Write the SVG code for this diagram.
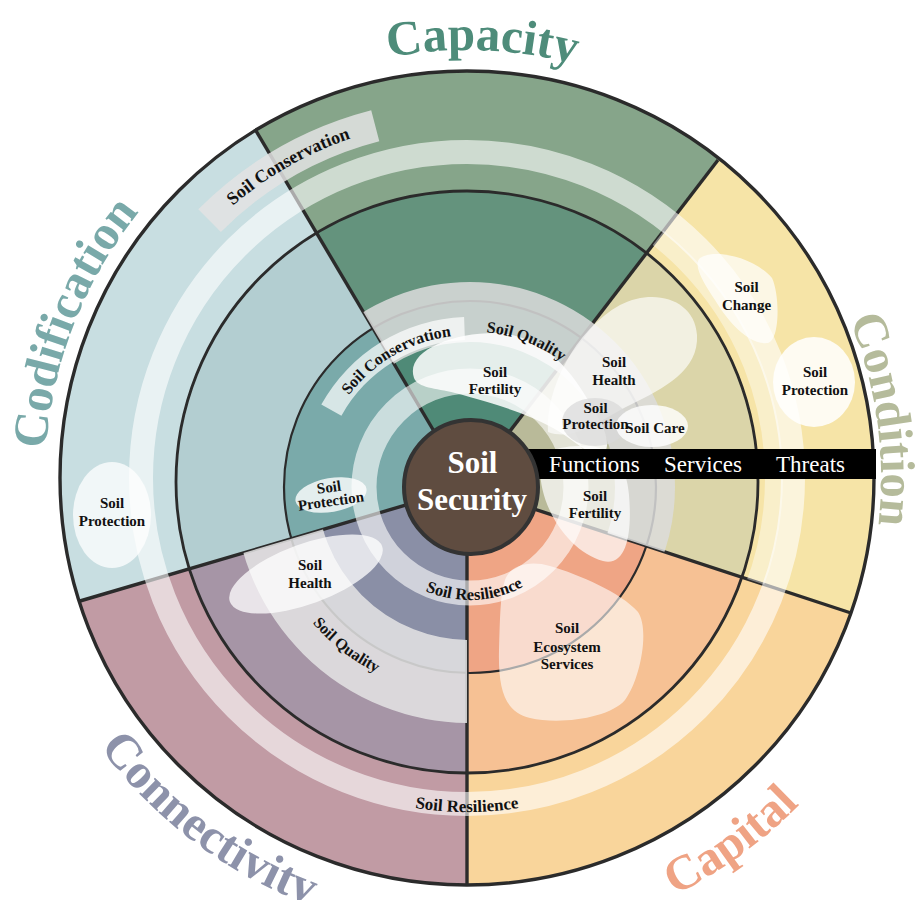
<svg xmlns="http://www.w3.org/2000/svg" width="919" height="900" viewBox="0 0 919 900">
<defs>
<style>
.lbl{font-family:"Liberation Serif","Times New Roman",serif;font-weight:bold;fill:#111;text-anchor:middle;font-size:15px}
.big{font-family:"Liberation Serif","Times New Roman",serif;font-weight:bold;font-size:49px;text-anchor:middle}
.arc{font-family:"Liberation Serif","Times New Roman",serif;font-weight:bold;fill:#111;text-anchor:middle}
.ln{fill:none;stroke:#2b2b2b}
.bar{font-family:"Liberation Serif","Times New Roman",serif;font-size:23px;fill:#fff}
.blob{fill:#fff}
</style>
<clipPath id="cCap"><polygon points="467,487 -169,-587 1220,-494"/></clipPath>
<clipPath id="cCond"><polygon points="467,487 1220,-494 1619,865"/></clipPath>
<clipPath id="cCapi"><polygon points="467,487 1619,865 467,1678"/></clipPath>
<clipPath id="cConn"><polygon points="467,487 467,1678 -694,829"/></clipPath>
<clipPath id="cCod"><polygon points="467,487 -694,829 -169,-587"/></clipPath>
<clipPath id="cTop"><polygon points="467,487 -169,-587 1220,-494 1619,865"/></clipPath>
<path id="pCapacity" d="M104.1,251.2 A428,428 0 0 1 844.9,277.1"/>
<path id="pCondition" d="M622.1,94.1 A414,414 0 0 1 721.9,804.2"/>
<path id="pCodification" d="M136.7,740.7 A422,422 0 0 1 404.6,60.6"/>
<path id="pConnectivity" d="M15.4,422.5 A455,455 0 0 0 644.8,896.8"/>
<path id="pCapital" d="M277.5,903.7 A466,466 0 0 0 930.4,429.3"/>
<path id="pSQtop" d="M372.1,366.2 A156,156 0 0 1 624.1,462.6"/>
<path id="pSCin" d="M318,487 A152,152 0 0 1 546,355.4"/>
<path id="pSCout" d="M108,476.7 A359,359 0 0 1 647.6,167.7"/>
<path id="pSRout" d="M177.7,645 A334,334 0 0 0 756.3,645"/>
<path id="pSRin" d="M374.7,547.7 A113,113 0 0 0 570.2,539.2"/>
<path id="pSQlow" d="M264.0,458.1 A208,208 0 0 0 547.9,679.9"/>
</defs>
<rect width="919" height="900" fill="#fff"/>

<g id="sector-capacity" clip-path="url(#cCap)">
<circle cx="467" cy="478" r="407" fill="#86A58A"/>
<circle cx="467" cy="482" r="291" fill="#64937D"/>
<circle cx="470" cy="487" r="186" fill="#4F8A77"/>
</g>
<g id="sector-condition" clip-path="url(#cCond)">
<circle cx="467" cy="478" r="407" fill="#F6E4A7"/>
<circle cx="467" cy="482" r="291" fill="#DBD5A9"/>
<circle cx="470" cy="487" r="186" fill="#B9BA99"/>
</g>
<g id="sector-capital" clip-path="url(#cCapi)">
<circle cx="467" cy="478" r="407" fill="#F9D59B"/>
<circle cx="467" cy="482" r="291" fill="#F6C194"/>
<circle cx="470" cy="487" r="186" fill="#EFA585"/>
</g>
<g id="sector-connectivity" clip-path="url(#cConn)">
<circle cx="467" cy="478" r="407" fill="#C19BA4"/>
<circle cx="467" cy="482" r="291" fill="#A695A6"/>
<circle cx="470" cy="487" r="186" fill="#8A8FA6"/>
</g>
<g id="sector-codification" clip-path="url(#cCod)">
<circle cx="467" cy="478" r="407" fill="#C8DEE1"/>
<circle cx="467" cy="482" r="291" fill="#B3CED1"/>
<circle cx="470" cy="487" r="186" fill="#7AAAAA"/>
</g>

<g id="connectors">
<circle class="ln" cx="470" cy="487" r="186" stroke-width="2.2"/>
<circle class="ln" cx="467" cy="482" r="291" stroke-width="2.8"/>
<circle class="ln" cx="467" cy="478" r="407" stroke-width="3.4"/>
<line class="ln" x1="467" y1="487" x2="255" y2="129" stroke-width="3.4"/>
<line class="ln" x1="467" y1="487" x2="718" y2="160" stroke-width="3.4"/>
<line class="ln" x1="467" y1="487" x2="851" y2="613" stroke-width="3.4"/>
<line class="ln" x1="467" y1="487" x2="467" y2="885" stroke-width="3.4"/>
<line class="ln" x1="467" y1="487" x2="80" y2="601" stroke-width="3.4"/>
</g>

<g id="bands">
<circle cx="467" cy="478" r="326" fill="none" stroke="#fff" stroke-width="24" opacity="0.6"/>
<circle cx="467" cy="478" r="307" fill="none" stroke="#fff" stroke-width="18" opacity="0.4" clip-path="url(#cCond)"/>
<path d="M198.3,209.3 A380,380 0 0 1 371.2,110.3 L379.3,141.2 A348,348 0 0 0 220.9,231.9 Z" fill="#E3E3E3" opacity="0.85"/>
<circle cx="470" cy="487" r="175" fill="none" stroke="#DCDCDC" stroke-width="60" opacity="0.85" clip-path="url(#cTop)"/>
<circle cx="470" cy="487" r="194.5" fill="none" stroke="#E4E4E4" stroke-width="83" opacity="0.85" clip-path="url(#cConn)"/>
<circle cx="470" cy="487" r="106" fill="none" stroke="#fff" stroke-width="25" opacity="0.6"/>
<path d="M321.3,404.6 A170,170 0 0 1 464.1,317.1 L464.9,340.1 A147,147 0 0 0 341.4,415.7 Z" fill="#fff" opacity="0.7"/>
</g>

<g id="blobs">
<path class="blob" opacity="0.85" d="M414,378 C405,352 450,333 495,333 C535,334 565,360 588,400 C600,420 612,440 605,452 C595,462 575,440 553,428 C530,415 500,405 455,393 C435,388 418,388 414,378 Z"/>
<path class="blob" opacity="0.65" d="M548,432 C545,390 575,330 620,305 C655,287 695,300 697,335 C699,370 665,388 630,405 C600,420 575,442 548,432 Z"/>
<path class="blob" opacity="0.7" d="M540,468 C540,510 570,552 603,561 C628,567 632,530 629,495 C627,465 612,448 590,446 C560,445 540,450 540,468 Z"/>
<path class="blob" opacity="0.6" d="M505,580 C510,565 530,560 550,566 C580,575 620,592 638,612 C650,630 640,680 625,700 C610,718 560,725 530,718 C505,712 498,690 499,650 C500,620 500,595 505,580 Z"/>
<path class="blob" opacity="0.7" d="M700,258 C715,248 755,258 772,278 C780,295 780,340 768,343 C750,345 730,325 715,300 C705,285 692,265 700,258 Z"/>
<ellipse class="blob" opacity="0.85" cx="814" cy="382" rx="41" ry="45"/>
<ellipse class="blob" opacity="0.75" cx="112" cy="515" rx="39" ry="53"/>
<ellipse class="blob" opacity="0.8" cx="331" cy="495" rx="36" ry="17" transform="rotate(-10 331 495)"/>
<ellipse class="blob" opacity="0.75" cx="306" cy="574" rx="81" ry="30" transform="rotate(-20 306 574)"/>
<ellipse fill="#D9D9D9" opacity="0.7" cx="595" cy="422" rx="33" ry="24"/>
<ellipse class="blob" opacity="0.8" cx="652" cy="426" rx="36" ry="21"/>
</g>

<g id="bar">
<rect x="520" y="449" width="356" height="30" fill="#000"/>
<text class="bar" x="549" y="472">Functions</text>
<text class="bar" x="664" y="472">Services</text>
<text class="bar" x="776" y="472">Threats</text>
</g>

<g id="core">
<circle cx="471" cy="487" r="67" fill="#5F4C40" stroke="#333" stroke-width="4"/>
<text font-family="Liberation Serif, Times New Roman, serif" font-weight="bold" font-size="31" fill="#fff" text-anchor="middle"><tspan x="472.5" y="473">Soil</tspan><tspan x="472" y="510">Security</tspan></text>
</g>

<g id="dimension-labels">
<text class="big" fill="#4E8C7A"><textPath href="#pCapacity" startOffset="50%">Capacity</textPath></text>
<text class="big" fill="#B5BB9B" font-size="48"><textPath href="#pCondition" startOffset="50%">Condition</textPath></text>
<text class="big" fill="#79A9A9"><textPath href="#pCodification" startOffset="50%">Codification</textPath></text>
<text class="big" fill="#8D92AA"><textPath href="#pConnectivity" startOffset="50%">Connectivity</textPath></text>
<text class="big" fill="#EFA384"><textPath href="#pCapital" startOffset="50%">Capital</textPath></text>
</g>

<g id="arc-labels">
<text class="arc" font-size="16"><textPath href="#pSQtop" startOffset="50%">Soil Quality</textPath></text>
<text class="arc" font-size="16"><textPath href="#pSCin" startOffset="50%">Soil Conservation</textPath></text>
<text class="arc" font-size="18"><textPath href="#pSCout" startOffset="50%">Soil Conservation</textPath></text>
<text class="arc" font-size="17"><textPath href="#pSRout" startOffset="50%">Soil Resilience</textPath></text>
<text class="arc" font-size="16.5"><textPath href="#pSRin" startOffset="50%">Soil Resilience</textPath></text>
<text class="arc" font-size="16"><textPath href="#pSQlow" startOffset="50%">Soil Quality</textPath></text>
</g>

<g id="node-soil-fertility-top"><text class="lbl"><tspan x="495" y="377">Soil</tspan><tspan x="495" y="394">Fertility</tspan></text></g>
<g id="node-soil-health-condition"><text class="lbl"><tspan x="614" y="367">Soil</tspan><tspan x="614" y="385">Health</tspan></text></g>
<g id="node-soil-protection-small"><text class="lbl" font-size="11.5"><tspan x="595.5" y="413">Soil</tspan><tspan x="595.5" y="429">Protection</tspan></text></g>
<g id="node-soil-care"><text class="lbl" font-size="13.5" x="655" y="433">Soil Care</text></g>
<g id="node-soil-change"><text class="lbl"><tspan x="746.5" y="292">Soil</tspan><tspan x="746.5" y="310">Change</tspan></text></g>
<g id="node-soil-protection-condition"><text class="lbl" font-size="14.5"><tspan x="815" y="377">Soil</tspan><tspan x="815" y="395">Protection</tspan></text></g>
<g id="node-soil-protection-codification"><text class="lbl"><tspan x="112" y="508">Soil</tspan><tspan x="112" y="526">Protection</tspan></text></g>
<g id="node-soil-protection-inner"><text class="lbl" font-size="11" transform="rotate(-8 331 495)"><tspan x="330" y="492">Soil</tspan><tspan x="330" y="506">Protection</tspan></text></g>
<g id="node-soil-health-connectivity"><text class="lbl"><tspan x="310" y="570">Soil</tspan><tspan x="310" y="588">Health</tspan></text></g>
<g id="node-soil-fertility-lower"><text class="lbl"><tspan x="595" y="501">Soil</tspan><tspan x="595" y="518">Fertility</tspan></text></g>
<g id="node-soil-ecosystem-services"><text class="lbl"><tspan x="567" y="633">Soil</tspan><tspan x="567" y="651.5">Ecosystem</tspan><tspan x="567" y="669">Services</tspan></text></g>
</svg>
